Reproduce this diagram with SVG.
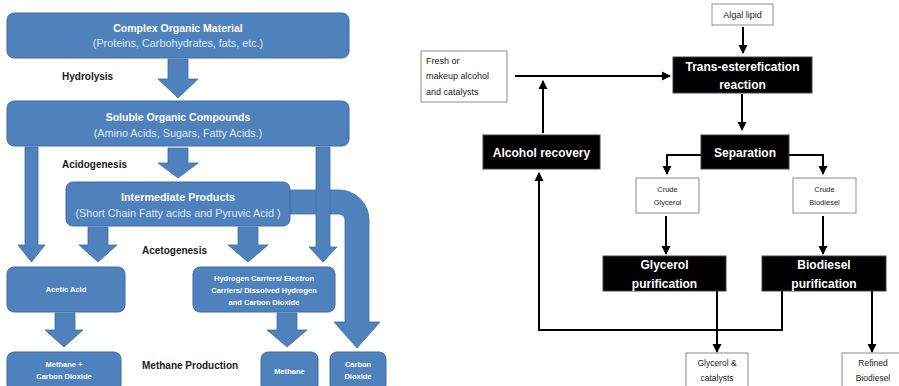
<svg xmlns="http://www.w3.org/2000/svg" width="899" height="386" viewBox="0 0 899 386">
<defs>
<style>
.bx{fill:#4f81bd;stroke:#3f6d9f;stroke-width:1}
.ba{fill:#4f81bd;stroke:#3f6d9f;stroke-width:0.8}
.hd{font-family:"Liberation Sans",Arial,sans-serif;font-weight:bold;fill:#fff;text-anchor:middle}
.sb{font-family:"Liberation Sans",Arial,sans-serif;fill:#dce6f2;text-anchor:middle}
.lb{font-family:"Liberation Sans",Arial,sans-serif;font-weight:bold;fill:#1a1a1a;font-size:10px}
.sm{font-family:"Liberation Sans",Arial,sans-serif;font-weight:bold;fill:#fff;text-anchor:middle;font-size:7.5px}
.kb{fill:#000;stroke:#444;stroke-width:1}
.wb{fill:#fff;stroke:#8c8c8c;stroke-width:1}
.kt{font-family:"Liberation Sans",Arial,sans-serif;font-weight:bold;fill:#fff;text-anchor:middle;font-size:12px}
.wt{font-family:"Liberation Sans",Arial,sans-serif;fill:#222;text-anchor:middle}
.wl{font-family:"Liberation Sans",Arial,sans-serif;fill:#222;text-anchor:start;font-size:9px}
.cn{fill:none;stroke:#000;stroke-width:2}
</style>
<marker id="ah" markerUnits="userSpaceOnUse" markerWidth="10" markerHeight="10" refX="8" refY="5" orient="auto">
<path d="M0,0.5 L9,5 L0,9.5 z" fill="#000"/>
</marker>
</defs>
<rect width="899" height="386" fill="#fff"/>

<!-- LEFT DIAGRAM -->
<g id="left-connectors">
<path class="ba" d="M290,190 H339 A30,30 0 0 1 369,220 V322 H380 L357,348 L334,322 H345 V220 A6,6 0 0 0 339,214 H290 Z"/>
<polygon class="ba" points="168,59 188,59 188,79 198,79 178,98 158,79 168,79"/>
<polygon class="ba" points="168,148 188,148 188,163 198,163 178,178 158,163 168,163"/>
<polygon class="ba" points="25,147 38,147 38,245 45,245 31.5,262 18,245 25,245"/>
<polygon class="ba" points="316,147 330,147 330,247 337,247 323,262 309,247 316,247"/>
<polygon class="ba" points="88,227 108,227 108,245 117,245 98,262 79,245 88,245"/>
<polygon class="ba" points="238,227 258,227 258,245 268,245 248,262 228,245 238,245"/>
<polygon class="ba" points="55,313 75,313 75,330 83,330 64,347 45,330 55,330"/>
<polygon class="ba" points="277,313 297,313 297,330 307,330 287,347 267,330 277,330"/>
</g>

<g id="complex">
<rect class="bx" x="7" y="13" width="342" height="45" rx="7"/>
<text class="hd" x="178" y="32" font-size="10.5">Complex Organic Material</text>
<text class="sb" x="178" y="47" font-size="10.8">(Proteins, Carbohydrates, fats, etc.)</text>
</g>
<g id="soluble">
<rect class="bx" x="7" y="101" width="342" height="45" rx="7"/>
<text class="hd" x="178" y="121" font-size="10.5">Soluble Organic Compounds</text>
<text class="sb" x="178" y="137" font-size="10.8">(Amino Acids, Sugars, Fatty Acids.)</text>
</g>
<g id="intermediate">
<rect class="bx" x="66" y="182" width="224" height="44" rx="7"/>
<text class="hd" x="178" y="201" font-size="10.8">Intermediate Products</text>
<text class="sb" x="178" y="217" font-size="10.8">(Short Chain Fatty acids and Pyruvic Acid )</text>
</g>
<g id="acetic">
<rect class="bx" x="7" y="267" width="118" height="45" rx="7"/>
<text class="sm" x="66" y="292">Acetic Acid</text>
</g>
<g id="hydrogen">
<rect class="bx" x="193" y="267" width="142" height="45" rx="7"/>
<text class="sm" x="264" y="281">Hydrogen Carriers/ Electron</text>
<text class="sm" x="264" y="293">Carriers/ Dissolved Hydrogen</text>
<text class="sm" x="264" y="305">and Carbon Dioxide</text>
</g>
<g id="methane-co2">
<rect class="bx" x="7" y="352" width="114" height="40" rx="7"/>
<text class="sm" x="64" y="367">Methane +</text>
<text class="sm" x="64" y="379">Carbon Dioxide</text>
</g>
<g id="methane">
<rect class="bx" x="261" y="352" width="57" height="40" rx="7"/>
<text class="sm" x="289.5" y="374">Methane</text>
</g>
<g id="co2">
<rect class="bx" x="330" y="352" width="56" height="40" rx="7"/>
<text class="sm" x="358" y="367">Carbon</text>
<text class="sm" x="358" y="379">Dioxide</text>
</g>
<g id="labels">
<text class="lb" x="62" y="80">Hydrolysis</text>
<text class="lb" x="62" y="168">Acidogenesis</text>
<text class="lb" x="142" y="254">Acetogenesis</text>
<text class="lb" x="142" y="369">Methane Production</text>
</g>

<!-- RIGHT DIAGRAM -->
<g id="right-connectors">
<line class="cn" x1="743" y1="27" x2="743" y2="53" marker-end="url(#ah)"/>
<line class="cn" x1="515" y1="76" x2="670" y2="76" marker-end="url(#ah)"/>
<line class="cn" x1="543" y1="133" x2="543" y2="81" marker-end="url(#ah)"/>
<line class="cn" x1="742" y1="94" x2="742" y2="130" marker-end="url(#ah)"/>
<path class="cn" d="M701,155 H667 V174" marker-end="url(#ah)"/>
<path class="cn" d="M789,155 H823 V174" marker-end="url(#ah)"/>
<line class="cn" x1="666" y1="216" x2="666" y2="254" marker-end="url(#ah)"/>
<line class="cn" x1="823" y1="216" x2="823" y2="254" marker-end="url(#ah)"/>
<path class="cn" d="M782,291 V330 H539 V173" marker-end="url(#ah)"/>
<line class="cn" x1="717" y1="291" x2="717" y2="352" marker-end="url(#ah)"/>
<line class="cn" x1="872" y1="291" x2="872" y2="352" marker-end="url(#ah)"/>
</g>

<g id="algal">
<rect class="wb" x="712" y="4" width="61" height="21"/>
<text class="wt" x="742.5" y="18" font-size="9">Algal lipid</text>
</g>
<g id="fresh">
<rect class="wb" x="421" y="51" width="86" height="51"/>
<text class="wl" x="426" y="64">Fresh or</text>
<text class="wl" x="426" y="79">makeup alcohol</text>
<text class="wl" x="426" y="95">and catalysts</text>
</g>
<g id="trans">
<rect class="kb" x="673" y="57" width="139" height="36"/>
<text class="kt" x="742.5" y="71">Trans-esterefication</text>
<text class="kt" x="742.5" y="89">reaction</text>
</g>
<g id="alcohol">
<rect class="kb" x="483" y="135" width="117" height="34"/>
<text class="kt" x="541.5" y="157">Alcohol recovery</text>
</g>
<g id="separation">
<rect class="kb" x="701" y="135" width="88" height="34"/>
<text class="kt" x="745" y="157">Separation</text>
</g>
<g id="crude-glycerol">
<rect class="wb" x="636" y="178" width="63" height="35"/>
<text class="wt" x="667.5" y="192" font-size="7.5">Crude</text>
<text class="wt" x="667.5" y="205" font-size="7.5">Glycerol</text>
</g>
<g id="crude-biodiesel">
<rect class="wb" x="793" y="178" width="63" height="35"/>
<text class="wt" x="824.5" y="192" font-size="7.5">Crude</text>
<text class="wt" x="824.5" y="205" font-size="7.5">Biodiesel</text>
</g>
<g id="glycerol-pur">
<rect class="kb" x="603" y="256" width="123" height="35"/>
<text class="kt" x="664.5" y="269">Glycerol</text>
<text class="kt" x="664.5" y="288">purification</text>
</g>
<g id="biodiesel-pur">
<rect class="kb" x="762" y="256" width="124" height="35"/>
<text class="kt" x="824" y="269">Biodiesel</text>
<text class="kt" x="824" y="288">purification</text>
</g>
<g id="glycerol-cat">
<rect class="wb" x="686" y="353" width="62" height="40"/>
<text class="wt" x="717" y="366" font-size="8.5">Glycerol &amp;</text>
<text class="wt" x="717" y="381" font-size="8.5">catalysts</text>
</g>
<g id="refined">
<rect class="wb" x="842" y="353" width="62" height="40"/>
<text class="wt" x="873" y="366" font-size="8.5">Refined</text>
<text class="wt" x="873" y="381" font-size="8.5">Biodiesel</text>
</g>
</svg>
